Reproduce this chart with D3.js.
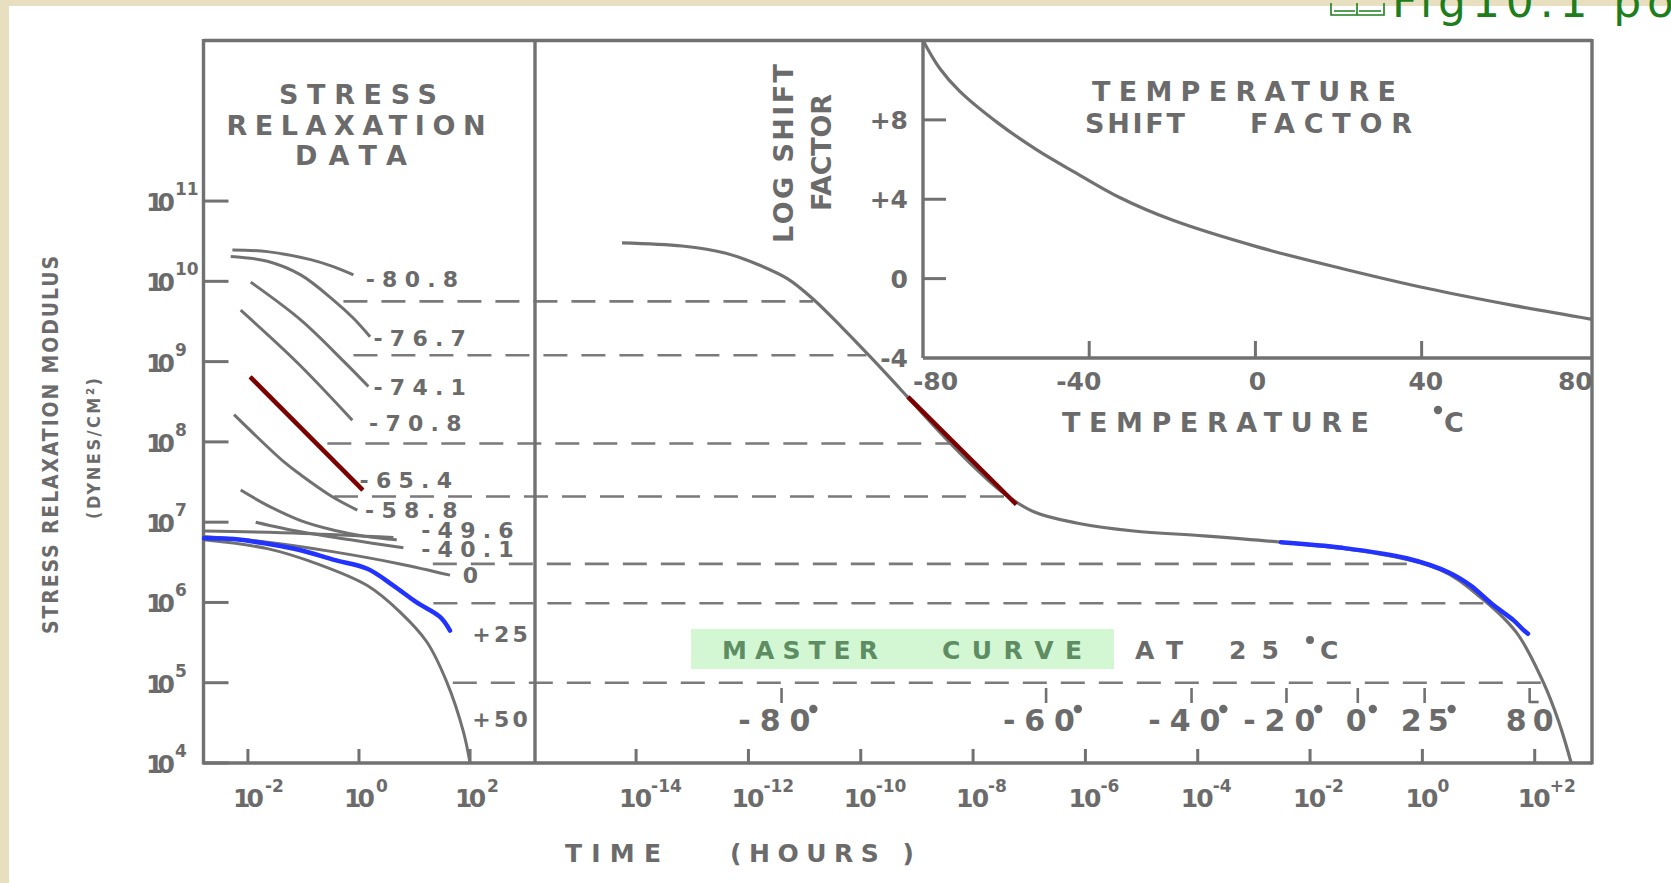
<!DOCTYPE html>
<html><head><meta charset="utf-8">
<script src="https://cdn.jsdelivr.net/npm/d3@7/dist/d3.min.js"></script>
<style>body{margin:0;background:#e7dfc0;}svg{display:block}</style>
</head><body>
<svg id="c" width="1671" height="883"></svg>
<script>
// ---------------- DATA (log10 values) ----------------
const modulusTicks = [4,5,6,7,8,9,10,11];
const leftTimeTicks = [-2,0,2];
const leftTimeTickLabels = ["-2","0","2"];
const masterTimeTicks = [-14,-12,-10,-8,-6,-4,-2,0,2];
const masterTimeTickLabels = ["-14","-12","-10","-8","-6","-4","-2","0","+2"];

const relaxLabels = ["-80.8","-76.7","-74.1","-70.8","-65.4","-58.8","","-49.6","-40.1","0","+25","+50"];
const relaxCurves = [
  [[-2.28,10.39],[-1.65,10.37],[-0.87,10.27],[-0.45,10.18],[-0.1,10.08]],
  [[-2.31,10.31],[-1.65,10.25],[-1.05,10.08],[-0.45,9.76],[-0.1,9.54],[0.2,9.31]],
  [[-1.95,9.99],[-1.05,9.52],[-0.27,9.0],[0.17,8.69]],
  [[-2.13,9.64],[-1.1,8.98],[-0.12,8.27]],
  [[-1.96,8.81],[-0.95,8.11],[0.07,7.40]],
  [[-2.25,8.34],[-1.35,7.75],[-1.05,7.59],[-0.51,7.33],[-0.03,7.15]],
  [[-2.78,6.89],[-1.0,6.86],[0.62,6.81]],
  [[-2.13,7.40],[-1.65,7.21],[-1.05,7.02],[-0.45,6.9],[0.14,6.82],[0.68,6.78]],
  [[-1.86,7.0],[-1.05,6.88],[-0.15,6.78],[0.8,6.68]],
  [[-2.78,6.82],[-1.65,6.75],[-0.45,6.63],[0.74,6.48],[1.64,6.34]],
  [[-2.79,6.80],[-2.25,6.79],[-1.65,6.73],[-1.05,6.65],[-0.45,6.53],[0.15,6.42],[0.62,6.21],[1.04,6.0],[1.46,5.82],[1.64,5.65]],
  [[-2.79,6.78],[-1.65,6.67],[-0.75,6.48],[0.15,6.21],[0.74,5.88],[1.22,5.51],[1.58,5.01],[1.88,4.39],[2.0,4.0]]
];
const relaxLabelPos = [[0.12,10.03],[0.26,9.30],[0.26,8.68],[0.18,8.24],[0.01,7.53],[0.11,7.15],null,[1.12,6.9],[1.12,6.67],[1.87,6.34],[2.04,5.61],[2.04,4.55]];

const leftBlue = [[-2.79,6.80],[-2.25,6.79],[-1.65,6.73],[-1.05,6.65],[-0.45,6.53],[0.15,6.42],[0.62,6.21],[1.04,6.0],[1.46,5.82],[1.64,5.65]];
const leftRed = [[-1.96,8.81],[0.07,7.40]];

const masterCurve = [[-14.25,10.48],[-13.18,10.44],[-12.4,10.35],[-11.8,10.2],[-11.3,10.03],[-10.85,9.78],[-10.34,9.43],[-9.79,9.03],
  [-9.18,8.57],[-8.63,8.15],[-8.06,7.74],[-7.49,7.38],[-6.92,7.13],[-6.16,6.99],[-5.14,6.89],[-3.89,6.83],
  [-2.52,6.75],[-0.98,6.63],[0.31,6.41],[0.99,6.09],[1.67,5.63],[2.15,5.01],[2.43,4.51],[2.65,4.0]];
const masterBlue = [[-2.52,6.75],[-1.42,6.68],[-0.28,6.55],[0.48,6.37],[0.86,6.21],[1.24,5.98],[1.62,5.78],[1.81,5.65],[1.88,5.61]];
const masterRed = [[-9.16,8.56],[-7.23,7.22]];

// dashed levels: [log modulus, start time in data panel, end time on master curve]
const dashLevels = [9.75, 9.08, 7.98, 7.32, 6.48, 5.99, 5.0];
const dashStartT = [-0.28, -0.1, -0.57, -0.45, 1.33, 1.34, 1.69];
const dashEndT = [-10.85, -9.9, -8.4, -7.35, -0.1, 1.13, 2.15];

const tempMarkT = [-11.41, -6.70, -4.11, -2.42, -1.15, 0.04, 1.91];
const tempMarkLabels = ["-80", "-60", "-40", "-20", "0", "25", "80"];

const shiftTemps = [-80,-76,-71.2,-62,-52.7,-43.4,-32.8,-20,0.5,21,41.5,62,81];
const shiftLog = [12,10.6,9.45,7.85,6.5,5.35,4.1,2.95,1.6,0.5,-0.5,-1.35,-2.05];
const shiftYTicks = [8,4,0,-4];
const shiftYTickLabels = ["+8","+4","0","-4"];
const shiftXTicks = [-40,0,40];
const shiftXLabels = ["-80","-40","0","40","80"];
const shiftXLabelPos = [-77,-42.5,0.5,41,77];

// ---------------- LAYOUT ----------------
const W=1671,H=883;
const L=203.5,R=1592,T=40.5,B=763,D=535,IL=923,IB=358;
const GRAY="#6b6b6b", LINE="#717171";

const yE = d3.scaleLinear().domain([4,13]).range([B,T]);
const xL = d3.scaleLinear().domain([-2.8,3.17]).range([L,D]);
const xM = d3.scaleLinear().domain([-15.8,3.02]).range([D,R]);
const xT = d3.scaleLinear().domain([-80,81]).range([IL,R]);
const yS = d3.scaleLinear().domain([-4,12]).range([IB,T]);

const svg = d3.select("#c");
svg.append("rect").attr("width",W).attr("height",H).attr("fill","#e7dfc0");
svg.append("rect").attr("x",9).attr("y",6).attr("width",W-9).attr("height",H-6).attr("fill","#ffffff");

function txt(x,y,s,o={}){
  const t = svg.append("text").attr("x",x).attr("y",y).text(s)
    .attr("font-family",o.ff||"DejaVu Sans").attr("font-weight",o.fw||"bold")
    .attr("font-size",o.fs||20).attr("fill",o.fill||GRAY);
  if(o.anchor) t.attr("text-anchor",o.anchor);
  if(o.len) t.attr("textLength",o.len).attr("lengthAdjust",o.adj||"spacing");
  if(o.rot) t.attr("transform",`rotate(${o.rot},${x},${y})`);
  return t;
}
function seg(x1,y1,x2,y2,w,c,dash){
  const l = svg.append("line").attr("x1",x1).attr("y1",y1).attr("x2",x2).attr("y2",y2)
    .attr("stroke",c||LINE).attr("stroke-width",w||3).attr("stroke-linecap","butt");
  if(dash) l.attr("stroke-dasharray",dash);
  return l;
}
function deg(x,y,r){ svg.append("circle").attr("cx",x).attr("cy",y).attr("r",r||3.6).attr("fill",GRAY); }

// title at top (cut off)
const bk = svg.append("g").attr("stroke","#1f7f1f").attr("fill","none").attr("stroke-width",1.6);
bk.append("path").attr("d","M1331,3 L1331,15 L1357,15 L1357,3 M1357,3 L1357,15 L1384,15 L1384,3 M1334,11 L1355,11 M1359,11 L1381,11");
txt(1392,17,"Fig10.1 po",{fw:"normal",fs:44,fill:"#1e7e1e",len:282});

// ---------------- dashed connectors ----------------
dashLevels.forEach((e,i)=>{
  seg(xL(dashStartT[i]), yE(e), xM(dashEndT[i]), yE(e), 2.6, "#7a7a7a", "24,14");
});

// ---------------- frame ----------------
const fw=3.4;
seg(L,T,R,T,fw); seg(L,B,R,B,fw); seg(L,T-1.5,L,B+1.5,fw); seg(R,T-1.5,R,B+1.5,fw);
seg(D,T,D,B,fw);
seg(IL,T,IL,IB,fw); seg(IL,IB,R,IB,fw);

// modulus ticks + labels
modulusTicks.forEach(e=>{
  const y=yE(e);
  seg(L,y,L+25,y,3);
  txt(146,y+10,"10",{fs:25,len:29});
  txt(175,y-6,String(e),{fs:17});
});
// left time ticks
leftTimeTicks.forEach((t,i)=>{
  const x=xL(t);
  seg(x,B,x,B-14,3);
  txt(x-15,807,"10",{fs:25,len:31});
  txt(x+17,792,leftTimeTickLabels[i],{fs:17});
});
// master time ticks
masterTimeTicks.forEach((t,i)=>{
  const x=xM(t);
  seg(x,B,x,B-14,3);
  txt(x-17,807,"10",{fs:25,len:33});
  txt(x+15,792,masterTimeTickLabels[i],{fs:17});
});

// ---------------- curves ----------------
const cv = d3.curveCatmullRom.alpha(0.5);
const lineL = d3.line().x(d=>xL(d[0])).y(d=>yE(d[1])).curve(cv);
const lineM = d3.line().x(d=>xM(d[0])).y(d=>yE(d[1])).curve(cv);
const lineT = d3.line().x((d,i)=>xT(d)).y((d,i)=>yS(shiftLog[i])).curve(cv);

relaxCurves.forEach(c=>{
  svg.append("path").attr("d",lineL(c)).attr("fill","none").attr("stroke",LINE).attr("stroke-width",3);
});
svg.append("path").attr("d",lineM(masterCurve)).attr("fill","none").attr("stroke",LINE).attr("stroke-width",3.2);
svg.append("path").attr("d",lineT(shiftTemps)).attr("fill","none").attr("stroke",LINE).attr("stroke-width",3.2);

// overlays
svg.append("path").attr("d",lineL(leftBlue)).attr("fill","none").attr("stroke","#2233ff").attr("stroke-width",4.5).attr("stroke-linecap","round");
svg.append("path").attr("d",lineM(masterBlue)).attr("fill","none").attr("stroke","#2233ff").attr("stroke-width",4.5).attr("stroke-linecap","round");
svg.append("path").attr("d",d3.line().x(d=>xL(d[0])).y(d=>yE(d[1]))(leftRed)).attr("fill","none").attr("stroke","#7d0000").attr("stroke-width",4.5);
svg.append("path").attr("d",d3.line().x(d=>xM(d[0])).y(d=>yE(d[1]))(masterRed)).attr("fill","none").attr("stroke","#7d0000").attr("stroke-width",4.5);

// relaxation labels
relaxLabels.forEach((s,i)=>{
  if(!s) return;
  const p=relaxLabelPos[i];
  txt(xL(p[0]), yE(p[1])+8, s, {fs:22, len: s.length*18.5});
});

// temperature marks on master curve
tempMarkT.forEach((t,i)=>{
  const x=xM(t);
  seg(x,B-75,x,B-60,2.6);
  if(tempMarkLabels[i]==="80") seg(x,B-61,x+9,B-61,2.6);
  const s=tempMarkLabels[i];
  const neg = s[0]==="-";
  const wdt = s.length*24;
  const x0 = x - (neg? wdt*0.6 : wdt*0.5);
  txt(x0, 731, s, {fs:30, len:wdt});
  if(s!=="80") deg(x0 + wdt + 3, 709, 4.2);
});

// inset ticks & labels
shiftYTicks.forEach((v,i)=>{
  const y=yS(v);
  if(v>-4) seg(IL,y,IL+23,y,3);
  txt(IL-15,y+9,shiftYTickLabels[i],{fs:25,anchor:"end"});
});
shiftXTicks.forEach(v=>{ seg(xT(v),IB,xT(v),IB-17,3); });
shiftXLabels.forEach((s,i)=>{
  txt(xT(shiftXLabelPos[i]),390,s,{fs:25,anchor:"middle"});
});

// titles
txt(358,104,"STRESS",{fs:27,anchor:"middle",len:158});
txt(356,135,"RELAXATION",{fs:27,anchor:"middle",len:259});
txt(351,165,"DATA",{fs:27,anchor:"middle",len:112});
txt(1244,101,"TEMPERATURE",{fs:27,anchor:"middle",len:304});
txt(1085,133,"SHIFT",{fs:27,len:100});
txt(1250,133,"FACTOR",{fs:27,len:162});
txt(1062,432,"TEMPERATURE",{fs:27,len:307});
deg(1438,410,4.2);
txt(1444,432,"C",{fs:27});
txt(793,243,"LOG  SHIFT",{fs:27,len:179,rot:-90});
txt(831,211,"FACTOR",{fs:27,len:117,rot:-90});

// y-axis title
txt(58,634,"STRESS RELAXATION MODULUS",{ff:"DejaVu Sans Condensed, DejaVu Sans",fs:21,len:378,rot:-90});
txt(100,519,"(DYNES/CM²)",{ff:"DejaVu Sans Condensed, DejaVu Sans",fs:18,len:141,rot:-90});

// time axis title
txt(565,862,"TIME",{fs:25,len:96});
txt(730,862,"(HOURS )",{fs:25,len:184});

// master curve note
svg.append("rect").attr("x",691).attr("y",629).attr("width",423).attr("height",40).attr("fill","#d3f7d3");
txt(722,659,"MASTER",{fs:25,len:156,fill:"#5e8d63"});
txt(942,659,"CURVE",{fs:25,len:140,fill:"#5e8d63"});
txt(1135,659,"AT",{fs:25,len:48});
txt(1229,659,"25",{fs:25,len:50});
deg(1310,640,4);
txt(1320,659,"C",{fs:25});
</script>
</body></html>
